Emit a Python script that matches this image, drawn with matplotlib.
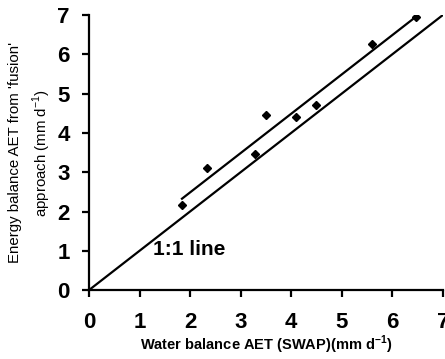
import numpy as np
import matplotlib
matplotlib.use("Agg")
import matplotlib.pyplot as plt

plt.rcParams["font.family"] = ["Liberation Sans", "DejaVu Sans"]
plt.rcParams["mathtext.fontset"] = "custom"
plt.rcParams["mathtext.rm"] = "Liberation Sans"
plt.rcParams["mathtext.bf"] = "Liberation Sans:bold"

# water balance AET (SWAP) vs energy balance AET (fusion), mm/day
swap_aet = [1.84, 2.34, 3.28, 3.50, 4.10, 4.49, 5.59, 6.48]
fusion_aet = [2.16, 3.11, 3.46, 4.46, 4.40, 4.70, 6.27, 6.96]
one_to_one = [0, 7]
ticks = [0, 1, 2, 3, 4, 5, 6, 7]

x = np.array(swap_aet)
y = np.array(fusion_aet)
slope, intercept = np.polyfit(x, y, 1)
fit_x = np.array([x.min(), x.max()])

fig = plt.figure(figsize=(4.45, 3.59), dpi=100)
ax = fig.add_axes([0.2, 0.192, 0.795, 0.766])

ax.plot(one_to_one, one_to_one, color="black", lw=1.6)
ax.plot(fit_x, slope * fit_x + intercept, color="black", lw=1.6)
ax.plot(x, y, linestyle="none", marker="D", markersize=4.5, color="black")
ax.text(1.26, 1.03, "1:1 line", fontsize=15, fontweight="bold", va="center")

ax.set_xlim(0, 7)
ax.set_ylim(0, 7)
ax.set_xticks(ticks)
ax.set_yticks(ticks)
ax.tick_params(labelsize=16, width=1.6, length=5, direction="out")
for lbl in ax.get_xticklabels() + ax.get_yticklabels():
    lbl.set_fontweight("bold")
ax.tick_params(axis="x", pad=11)
ax.tick_params(axis="y", pad=9)
ax.spines["top"].set_visible(False)
ax.spines["right"].set_visible(False)
ax.spines["left"].set_linewidth(1.6)
ax.spines["bottom"].set_linewidth(1.6)

ax.set_xlabel(r"Water balance AET (SWAP)(mm d$^{\mathbf{-1}}$)", fontsize=10.5,
              fontweight="bold", labelpad=0)
ax.set_ylabel("Energy balance AET from 'fusion'\napproach (mm d$^{-1}$)", fontsize=10.8,
              linespacing=1.5, labelpad=3)

fig.savefig("out.png", dpi=100)
